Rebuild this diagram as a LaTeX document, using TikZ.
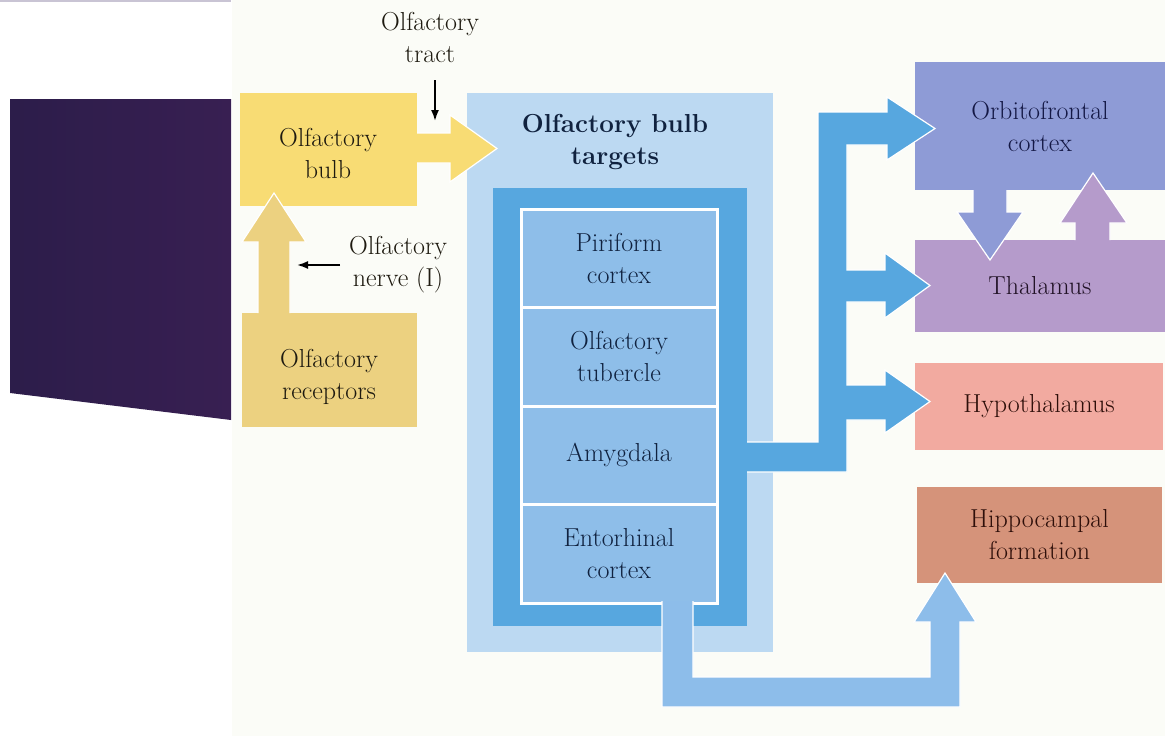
\documentclass[tikz,border=0pt]{standalone}
\usepackage{fontspec}
\usetikzlibrary{arrows.meta}
\definecolor{bgc}{HTML}{FBFCF7}
\definecolor{topline}{HTML}{C9C4D4}
\definecolor{purpL}{HTML}{2C1D4A}
\definecolor{purpR}{HTML}{381F52}
\definecolor{bulbY}{HTML}{F8DC74}
\definecolor{recY}{HTML}{ECD180}
\definecolor{lightB}{HTML}{BCD9F2}
\definecolor{midB}{HTML}{57A7DF}
\definecolor{cellB}{HTML}{8EBEE9}
\definecolor{hipArr}{HTML}{8DBDEA}
\definecolor{orbC}{HTML}{8E9BD6}
\definecolor{thalC}{HTML}{B59BCB}
\definecolor{hypoC}{HTML}{F2AAA0}
\definecolor{hippC}{HTML}{D5937A}
\definecolor{txtY}{HTML}{1E1A10}
\definecolor{txtB}{HTML}{10223F}
\definecolor{txtO}{HTML}{141845}
\definecolor{txtT}{HTML}{211226}
\definecolor{txtH}{HTML}{2E0F0A}
\newcommand{\figfont}{\fontsize{26}{32}\selectfont\addfontfeature{LetterSpace=4,FakeBold=0.6}}
\begin{document}
\begin{tikzpicture}[x=1pt,y=-1pt,
  lbl/.style={inner sep=0pt, outer sep=0pt, align=center, font=\figfont},
  box/.style={inner sep=0pt, outer sep=0pt, draw=none, align=center, font=\figfont},
  cellbox/.style={box, fill=cellB, draw=white, line width=3pt, minimum width=196pt, minimum height=98.5pt, text=txtB},
  outl/.style={draw=white, line width=1.2pt, line join=miter},
  thinarrow/.style={draw=black, line width=1.8pt, -{Latex[length=11pt,width=8pt]}}]
\useasboundingbox (0,0) rectangle (1165,736);
% backgrounds
\fill[white] (0,0) rectangle (1165,736);
\fill[bgc] (232,0) rectangle (1165,736);
\fill[topline] (0,0) rectangle (231,2);
\shade[left color=purpL, right color=purpR] (10,99) -- (231,99) -- (231,420) -- (10,393) -- cycle;

% left yellow boxes
\node[box, fill=bulbY, minimum width=177pt, minimum height=113pt] (bulb) at (328.5,149.5) {};
\node[box, fill=recY, minimum width=175pt, minimum height=114pt] (rec) at (329,370) {};
\node[lbl, text=txtY] (bulbT) at (328,153) {Olfactory\\bulb};
\node[lbl, text=txtY] (recT) at (329,376.5) {Olfactory\\receptors};

% target boxes
\node[box, fill=lightB, minimum width=306pt, minimum height=559pt] (targets) at (620,372.5) {};
\node[box, fill=midB, minimum width=254pt, minimum height=438pt] (inner) at (620,407) {};
\node[lbl, font={\fontsize{26}{32}\selectfont\bfseries}, text=txtB] (targetsT) at (615,142.5) {Olfactory bulb\\targets};
\node[cellbox] (piri) at (619,258.25) {Piriform\\cortex};
\node[cellbox] (tub) at (619,356.75) {Olfactory\\tubercle};
\node[cellbox] (amyg) at (619,455.25) {Amygdala};
\node[cellbox] (ento) at (619,553.75) {Entorhinal\\cortex};

% right boxes
\node[box, fill=orbC, minimum width=250pt, minimum height=128pt, text=txtO] (orb) at (1040,126) {Orbitofrontal\\cortex};
\node[box, fill=thalC, minimum width=250pt, minimum height=92pt, text=txtT] (thal) at (1040,286) {Thalamus};
\node[box, fill=hypoC, minimum width=248pt, minimum height=87pt, text=txtH] (hypo) at (1039,406.5) {Hypothalamus};
\node[box, fill=hippC, minimum width=245pt, minimum height=96pt, text=txtH] (hipp) at (1039.5,535) {Hippocampal\\formation};

% yellow block arrows
\fill[bulbY] (417,133) -- (450,133) -- (450,115) -- (497,148.5) -- (450,182) -- (450,163) -- (417,163) -- cycle;
\draw[outl] (417,133) -- (450,133) -- (450,115) -- (497,148.5) -- (450,182) -- (450,163) -- (417,163);
\fill[recY] (258,313) -- (258,242) -- (242,242) -- (274,193) -- (306,242) -- (290,242) -- (290,313) -- cycle;
\draw[outl] (258,313) -- (258,242) -- (242,242) -- (274,193) -- (306,242) -- (290,242) -- (290,313);

% blue branching arrow
\fill[midB] (747,442) -- (818,442) -- (818,112) -- (887,112) -- (887,97) -- (935,128.5) -- (887,160) -- (887,145) -- (847,145) -- (847,270) -- (885,270) -- (885,253) -- (930,285.5) -- (885,318) -- (885,302) -- (847,302) -- (847,385) -- (885,385) -- (885,370) -- (930,401.5) -- (885,433) -- (885,420) -- (847,420) -- (847,472) -- (747,472) -- cycle;
\draw[outl] (747,442) -- (818,442) -- (818,112) -- (887,112) -- (887,97) -- (935,128.5) -- (887,160) -- (887,145) -- (847,145) -- (847,270) -- (885,270) -- (885,253) -- (930,285.5) -- (885,318) -- (885,302) -- (847,302) -- (847,385) -- (885,385) -- (885,370) -- (930,401.5) -- (885,433) -- (885,420) -- (847,420) -- (847,472) -- (747,472);

% hippocampal arrow
\fill[hipArr] (662,601) -- (662,707) -- (960,707) -- (960,622) -- (976,622) -- (945,573) -- (914,622) -- (930,622) -- (930,677) -- (693,677) -- (693,601) -- cycle;
\draw[outl] (662,601) -- (662,707) -- (960,707) -- (960,622) -- (976,622) -- (945,573) -- (914,622) -- (930,622) -- (930,677) -- (693,677) -- (693,601);

% orbitofrontal <-> thalamus
\fill[orbC] (973,190) -- (973,212) -- (957,212) -- (990,260) -- (1023,212) -- (1007,212) -- (1007,190) -- cycle;
\draw[outl] (973,190) -- (973,212) -- (957,212) -- (990,260) -- (1023,212) -- (1007,212) -- (1007,190);
\fill[thalC] (1075,240) -- (1075,223) -- (1060,223) -- (1093,173) -- (1127,223) -- (1110,223) -- (1110,240) -- cycle;
\draw[outl] (1075,240) -- (1075,223) -- (1060,223) -- (1093,173) -- (1127,223) -- (1110,223) -- (1110,240);

% labels with small arrows
\node[lbl, text=txtY] (tractT) at (430,37) {Olfactory\\tract};
\node[lbl, text=txtY] (nerveT) at (398,265) {Olfactory\\nerve (I)};
\coordinate (tractA) at (435,80);
\coordinate (tractB) at (435,121);
\draw[thinarrow] (tractA) -- (tractB);
\coordinate (nerveA) at (340,265);
\coordinate (nerveB) at (297,265);
\draw[thinarrow] (nerveA) -- (nerveB);
\end{tikzpicture}
\end{document}
